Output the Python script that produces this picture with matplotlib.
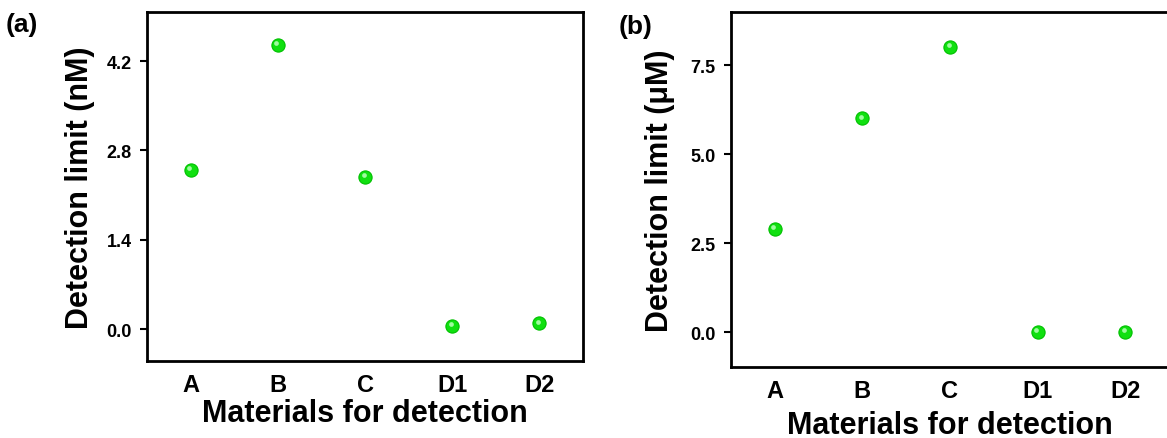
import matplotlib
matplotlib.use("Agg")
import matplotlib.pyplot as plt
import matplotlib.transforms as mtransforms

categories = ["A", "B", "C", "D1", "D2"]
values_a = [2.49, 4.46, 2.39, 0.05, 0.09]
values_b = [2.89, 6.00, 8.00, 0.00, 0.00]
yticks_a = [0.0, 1.4, 2.8, 4.2]
yticks_b = [0.0, 2.5, 5.0, 7.5]

plt.rcParams['font.family'] = ['Liberation Sans', 'DejaVu Sans']
plt.rcParams['font.weight'] = 'bold'

W, H = 1167, 439
fig = plt.figure(figsize=(W / 100, H / 100), dpi=100)

def px_axes(l, t, r, b):
    return fig.add_axes([l / W, 1 - b / H, (r - l) / W, (b - t) / H])

ax_a = px_axes(147, 13, 583, 362)
ax_b = px_axes(731, 13, 1169, 368)

def draw(ax, vals, yticks, ylim, ylabel, ylab_x, xlab_y):
    x = list(range(len(categories)))
    ax.plot(x, vals, 'o', ls='none', ms=9.5, color='#10e010', mec='#00c000', mew=0.8, zorder=3)
    hl = mtransforms.offset_copy(ax.transData, fig=fig, x=-1.5, y=1.8, units='dots')
    ax.plot(x, vals, 'o', ls='none', ms=3.4, color='#b0ffb0', mew=0, transform=hl, zorder=4, alpha=0.9)
    ax.set_xlim(-0.5, 4.5)
    ax.set_ylim(*ylim)
    ax.set_xticks(x)
    ax.set_xticklabels(categories, fontsize=17, fontweight='bold')
    ax.set_yticks(yticks)
    ax.set_yticklabels([f"{v:.1f}" for v in yticks], fontsize=13, fontweight='bold')
    ax.tick_params(axis='x', length=0, pad=9)
    ax.tick_params(axis='y', length=5, width=1.5, pad=6, direction='out')
    for s in ax.spines.values():
        s.set_linewidth(2)
    ax.set_ylabel(ylabel, fontsize=22, fontweight='bold')
    ax.set_xlabel("Materials for detection", fontsize=22, fontweight='bold')
    ax.yaxis.set_label_coords(ylab_x, 0.5)
    ax.xaxis.set_label_coords(0.5, xlab_y)

draw(ax_a, values_a, yticks_a, (-0.5, 4.97), "Detection limit (nM)", -0.119, -0.107)
draw(ax_b, values_b, yticks_b, (-0.98, 8.99), "Detection limit (\u03bcM)", -0.128, -0.122)

fig.text(22 / W, 1 - 25 / H, "(a)", fontsize=19, fontweight='bold', ha='center', va='center')
fig.text(636 / W, 1 - 27 / H, "(b)", fontsize=19, fontweight='bold', ha='center', va='center')

fig.savefig("out.png", dpi=100)
